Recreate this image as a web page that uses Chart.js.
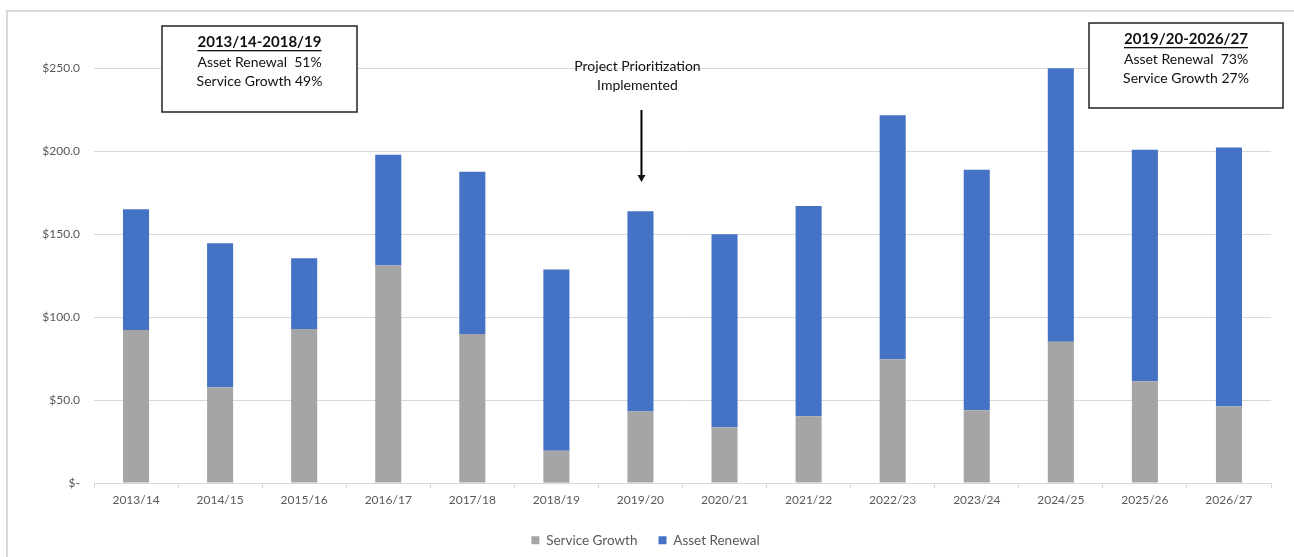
<!DOCTYPE html>
<html>
<head>
<meta charset="utf-8">
<script src="https://cdn.jsdelivr.net/npm/chart.js@4.4.1/dist/chart.umd.min.js"></script>
<style>
  html, body { margin: 0; padding: 0; background: #fff; }
  #wrap { position: relative; width: 1294px; height: 557px; }
  #frame { position: absolute; left: 6px; top: 10px; width: 1300px; height: 560px;
           border-left: 2px solid #d9d9d9; border-top: 2px solid #d9d9d9; box-sizing: border-box; }
</style>
</head>
<body>
<div id="wrap">
  <div id="frame"></div>
  <canvas id="chart" width="1294" height="557"></canvas>
</div>
<script>
const years = ["2013/14", "2014/15", "2015/16", "2016/17", "2017/18", "2018/19", "2019/20",
               "2020/21", "2021/22", "2022/23", "2023/24", "2024/25", "2025/26", "2026/27"];
const serviceGrowth = [92.2, 57.8, 92.8, 131.0, 89.8, 19.5, 43.1, 33.6, 40.2, 74.6, 43.8, 85.2, 61.3, 46.1];
const assetRenewal = [72.8, 86.6, 42.6, 66.8, 97.7, 109.1, 120.7, 116.3, 126.7, 146.9, 144.9, 164.6, 139.5, 156.0];
const yTickLabels = ["$-", "$50.0", "$100.0", "$150.0", "$200.0", "$250.0"];

const font = "Lato, 'Open Sans', sans-serif";

const notes = {
  id: "notes",
  afterDraw(chart) {
    const ctx = chart.ctx;
    ctx.save();
    function box(x, y, w, h, lines) {
      ctx.fillStyle = "#fff";
      ctx.fillRect(x, y, w, h);
      ctx.strokeStyle = "#222";
      ctx.lineWidth = 1.5;
      ctx.strokeRect(x, y, w, h);
      const cx = x + w / 2;
      ctx.textAlign = "center";
      ctx.textBaseline = "middle";
      ctx.fillStyle = "#111";
      ctx.font = "bold 15px " + font;
      ctx.fillText(lines[0], cx, y + 16);
      const tw = ctx.measureText(lines[0]).width;
      ctx.fillRect(cx - tw / 2, y + 24, tw, 1.3);
      ctx.font = "14px " + font;
      ctx.fillText(lines[1], cx, y + 36);
      ctx.fillText(lines[2], cx, y + 55);
    }
    box(162, 26, 195, 86, ["2013/14-2018/19", "Asset Renewal  51%", "Service Growth 49%"]);
    box(1089, 23, 194, 85, ["2019/20-2026/27", "Asset Renewal  73%", "Service Growth 27%"]);

    const ax = chart.scales.x.getPixelForValue(6);
    ctx.fillStyle = "#111";
    ctx.font = "14px " + font;
    ctx.textAlign = "center";
    ctx.textBaseline = "middle";
    ctx.fillText("Project Prioritization", ax - 3, 66);
    ctx.fillText("Implemented", ax - 3, 85);
    ctx.strokeStyle = "#000";
    ctx.lineWidth = 2;
    ctx.beginPath();
    ctx.moveTo(ax + 1, 110);
    ctx.lineTo(ax + 1, 176);
    ctx.stroke();
    ctx.beginPath();
    ctx.moveTo(ax - 3, 175);
    ctx.lineTo(ax + 5, 175);
    ctx.lineTo(ax + 1, 182);
    ctx.closePath();
    ctx.fill();
    ctx.restore();
  }
};

new Chart(document.getElementById("chart"), {
  type: "bar",
  data: {
    labels: years,
    datasets: [
      { label: "Service Growth", data: serviceGrowth, backgroundColor: "#a5a5a5" },
      { label: "Asset Renewal", data: assetRenewal, backgroundColor: "#4472c4" }
    ]
  },
  options: {
    responsive: false,
    animation: false,
    datasets: { bar: { barPercentage: 0.31, categoryPercentage: 1 } },
    layout: { padding: { left: 20, right: 23, top: 68, bottom: 0 } },
    plugins: {
      tooltip: { enabled: false },
      legend: {
        position: "bottom",
        labels: {
          boxWidth: 8, boxHeight: 8, color: "#595959", padding: 21,
          font: { family: font, size: 13.5 }
        }
      }
    },
    scales: {
      x: {
        stacked: true,
        grid: { drawOnChartArea: false, color: "#d9d9d9", tickLength: 5 },
        border: { color: "#d9d9d9" },
        ticks: { color: "#595959", font: { family: font, size: 12 }, padding: 5, maxRotation: 0 }
      },
      y: {
        stacked: true,
        min: 0, max: 250,
        afterFit(s) { s.width = 74; },
        grid: { color: "#d9d9d9", drawTicks: false },
        border: { display: false },
        ticks: {
          stepSize: 50, color: "#595959", padding: 14,
          font: { family: font, size: 12 },
          callback: (v, i) => yTickLabels[i]
        }
      }
    }
  },
  plugins: [notes]
});
</script>
</body>
</html>
